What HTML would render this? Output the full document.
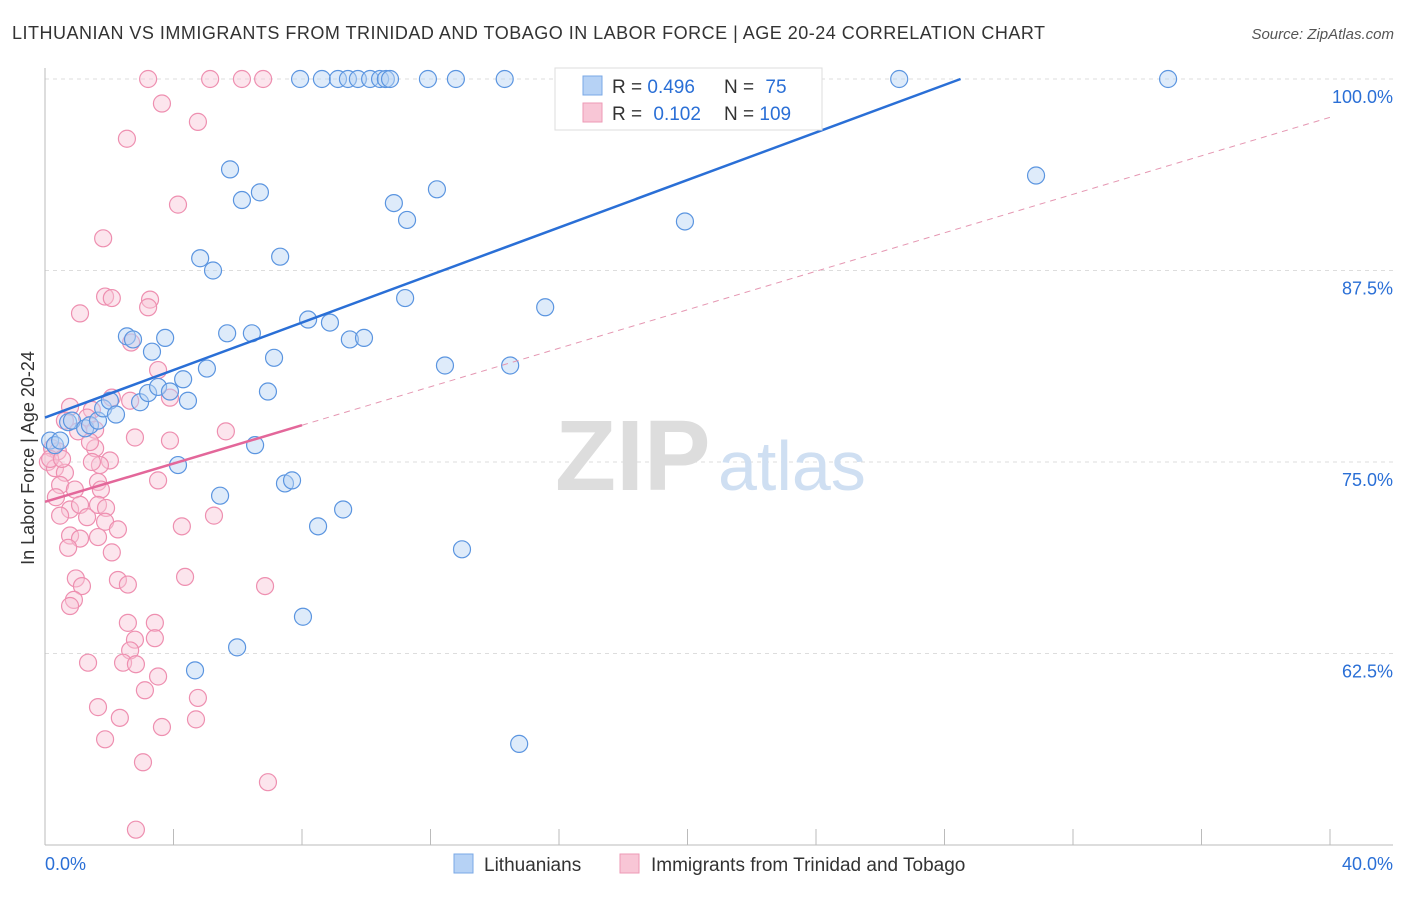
<!DOCTYPE html>
<html><head><meta charset="utf-8">
<style>
body{margin:0;background:#fff;font-family:"Liberation Sans",sans-serif;}
svg text{font-family:"Liberation Sans",sans-serif;}
</style></head>
<body>
<svg width="1406" height="892" viewBox="0 0 1406 892">
<text x="12" y="39" font-size="18" fill="#333" textLength="1033" lengthAdjust="spacing">LITHUANIAN VS IMMIGRANTS FROM TRINIDAD AND TOBAGO IN LABOR FORCE | AGE 20-24 CORRELATION CHART</text>
<text x="1394" y="39" font-size="15" fill="#555" font-style="italic" text-anchor="end">Source: ZipAtlas.com</text>
<g id="grid"></g>
<g id="axes"></g>
<text x="555" y="490" font-size="100" fill="#ddd" font-family="Liberation Serif" font-weight="bold">ZIP</text>
<text x="718" y="490" font-size="70" fill="#cfdff2">atlas</text>
<g id="pink"></g>
<g id="blue"></g>
<g id="lines"></g>
<text x="34" y="458" font-size="18" fill="#333" transform="rotate(-90 34 458)" text-anchor="middle">In Labor Force | Age 20-24</text>
<g>
<rect x="555" y="68" width="267" height="62" fill="#fff" stroke="#ddd"/>
<rect x="583" y="76" width="19" height="19" fill="#b6d2f5" stroke="#7aa8e6"/>
<rect x="583" y="103" width="19" height="19" fill="#f8c6d6" stroke="#ee9ab6"/>
<text x="612" y="93" font-size="19" fill="#333">R = <tspan fill="#2a6fd6">0.496</tspan></text>
<text x="724" y="93" font-size="19" fill="#333">N = <tspan fill="#2a6fd6" dx="6">75</tspan></text>
<text x="612" y="120" font-size="19" fill="#333">R = <tspan fill="#2a6fd6" dx="6">0.102</tspan></text>
<text x="724" y="120" font-size="19" fill="#333">N = <tspan fill="#2a6fd6">109</tspan></text>
</g>
<g>
<rect x="454" y="854" width="19" height="19" fill="#b6d2f5" stroke="#7aa8e6"/>
<text x="484" y="871" font-size="19" fill="#333">Lithuanians</text>
<rect x="620" y="854" width="19" height="19" fill="#f8c6d6" stroke="#ee9ab6"/>
<text x="651" y="871" font-size="19" fill="#333">Immigrants from Trinidad and Tobago</text>
</g>
</svg>
<script>
const xTicks=[0,40];
const yTicks=[100,87.5,75,62.5];
const yTickLabels=["100.0%","87.5%","75.0%","62.5%"];
const blueX=[0.16,0.31,0.47,0.72,0.84,1.25,1.40,1.65,1.81,2.02,2.21,2.55,2.74,2.96,3.21,3.33,3.52,3.74,3.89,4.30,4.45,4.14,4.67,4.83,5.23,5.04,5.45,5.67,5.76,5.98,6.13,6.44,6.54,6.69,6.94,7.13,7.32,7.47,7.69,8.03,8.19,8.50,8.87,9.28,9.49,9.93,10.86,11.21,11.27,12.20,12.45,12.98,14.48,14.76,15.57,19.92,30.85,7.94,8.62,9.12,9.43,9.74,10.12,10.43,10.61,10.74,11.92,12.79,14.31,16.75,22.88,26.59,34.96];
const blueY=[76.4,76.1,76.4,77.6,77.7,77.2,77.4,77.7,78.5,79.0,78.1,83.2,83.0,78.9,79.5,82.2,79.9,83.1,79.6,80.4,79.0,74.8,61.4,88.3,87.5,81.1,72.8,83.4,94.1,62.9,92.1,83.4,76.1,92.6,79.6,81.8,88.4,73.6,73.8,64.9,84.3,70.8,84.1,71.9,83.0,83.1,91.9,85.7,90.8,92.8,81.3,69.3,81.3,56.6,85.1,90.7,93.7,100,100,100,100,100,100,100,100,100,100,100,100,100,100,100,100];
const pinkX=[3.21,5.14,6.13,6.79,3.64,4.76,2.55,4.14,1.81,1.87,2.08,3.27,3.21,1.09,2.68,3.52,3.89,2.08,2.65,0.78,1.46,1.31,1.03,1.56,2.80,3.89,5.63,0.22,0.40,0.09,0.31,0.62,1.56,2.02,1.71,1.46,0.47,0.93,1.65,1.74,3.52,0.34,0.78,1.09,1.31,1.65,1.90,0.47,1.87,2.27,0.78,1.09,1.65,4.26,5.26,0.72,2.08,0.96,1.15,2.27,2.58,4.36,6.85,0.90,0.78,2.58,3.42,3.42,2.80,2.65,1.34,2.43,2.83,3.52,3.11,4.76,1.65,2.33,4.70,3.64,1.87,3.05,6.94,2.83,1.40,0.62,0.16,0.53];
const pinkY=[100,100,100,100,98.4,97.2,96.1,91.8,89.6,85.8,85.7,85.6,85.1,84.7,82.8,81.0,79.2,79.2,79.0,78.6,78.4,77.9,77.0,77.1,76.6,76.4,77.0,75.9,75.7,75.0,74.6,74.3,75.9,75.1,74.8,75.0,73.5,73.2,73.7,73.2,73.8,72.7,71.9,72.2,71.4,72.2,72.0,71.5,71.1,70.6,70.2,70.0,70.1,70.8,71.5,69.4,69.1,67.4,66.9,67.3,67.0,67.5,66.9,66.0,65.6,64.5,64.5,63.5,63.4,62.7,61.9,61.9,61.8,61.0,60.1,59.6,59.0,58.3,58.2,57.7,56.9,55.4,54.1,51.0,76.3,77.7,75.2,75.2];
const blueLine=[[0,77.9],[28.5,100]];
const pinkSolid=[[0,72.4],[8,77.4]];
const pinkDash=[[8,77.4],[40,97.5]];
const X=v=>45+v/40*1285, Y=v=>79+(100-v)/12.5*191.5;
const NS="http://www.w3.org/2000/svg";
function mk(t,a,p){const e=document.createElementNS(NS,t);for(const k in a)e.setAttribute(k,a[k]);p.appendChild(e);return e;}
const grid=document.getElementById('grid'),axes=document.getElementById('axes');
yTicks.forEach((t,i)=>{
 const l=mk('line',{x1:45,x2:1393,y1:Y(t),y2:Y(t),stroke:'#ddd','stroke-dasharray':'4,4'},grid);
 
 
 const tx=mk('text',{x:1393,y:Y(t)+24,'font-size':18,fill:'#2a6fd6','text-anchor':'end'},axes);
 tx.textContent=yTickLabels[i];
 
 
});
mk('line',{x1:45,x2:45,y1:68,y2:845,stroke:'#bbb'},axes);
mk('line',{x1:45,x2:1393,y1:845,y2:845,stroke:'#bbb'},axes);
for(let v=0;v<=40;v+=4){const t=mk('line',{x1:X(v),x2:X(v),y1:829,y2:845,stroke:'#bbb'},axes);
 
 }
xTicks.forEach((v,i)=>{const t=mk('text',{x:i?1393:45,y:870,'font-size':18,fill:'#2a6fd6','text-anchor':i?'end':'start'},axes);
 t.textContent=v.toFixed(1)+'%';
 
 });
function pts(xs,ys,g,fill,stroke,name){xs.forEach((x,i)=>{const c=mk('circle',{cx:X(x),cy:Y(ys[i]),r:8.5,fill:fill,'fill-opacity':0.45,stroke:stroke,'stroke-width':1.2},g);
 
 });}
pts(pinkX,pinkY,document.getElementById('pink'),'#f8c6d6','#ee8fb0','trinidad-point');
pts(blueX,blueY,document.getElementById('blue'),'#b6d2f5','#5b95e0','lithuanian-point');
const lg=document.getElementById('lines');
function ln(p,st,w,d,name){const l=mk('line',{x1:X(p[0][0]),y1:Y(p[0][1]),x2:X(p[1][0]),y2:Y(p[1][1]),stroke:st,'stroke-width':w},lg);
 if(d)l.setAttribute('stroke-dasharray',d);
 
 }
ln(blueLine,'#2a6fd6',2.5,null,'lithuanian-trend');
ln(pinkDash,'#e597b2',1,'6,5','trinidad-trend-extension');
ln(pinkSolid,'#e3679a',2.5,null,'trinidad-trend');
</script>
</body></html>
